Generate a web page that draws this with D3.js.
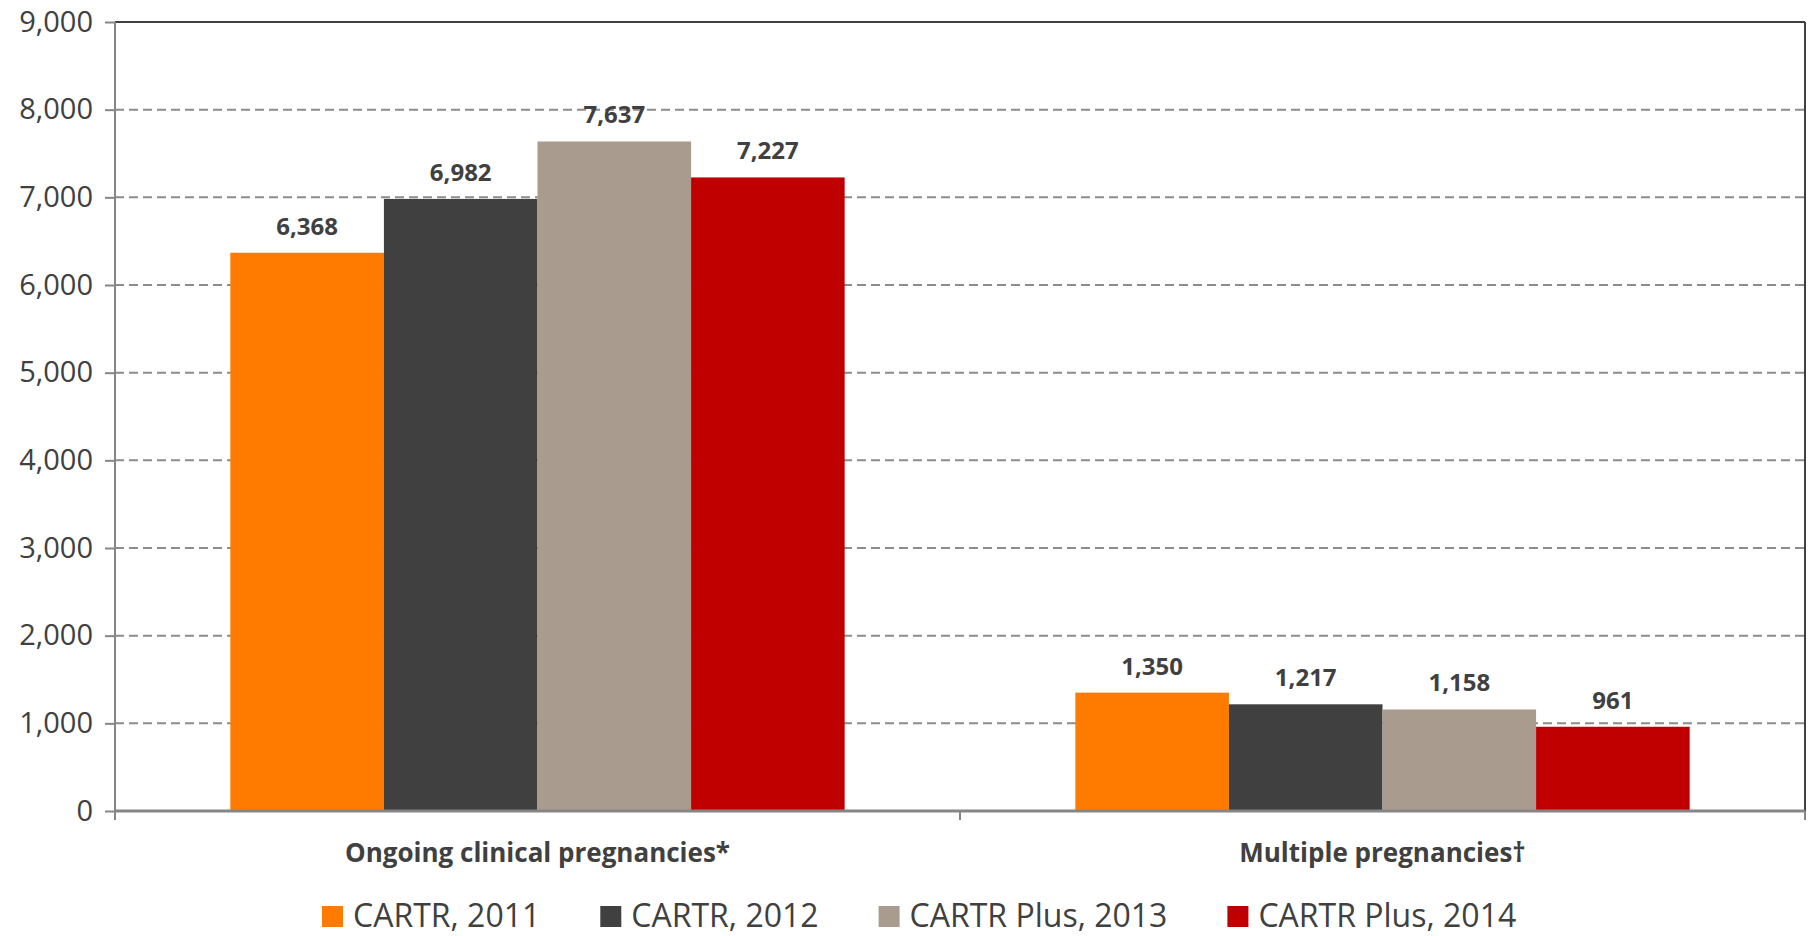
<!DOCTYPE html>
<html>
<head>
<meta charset="utf-8">
<script src="https://cdn.jsdelivr.net/npm/d3@7"></script>
<style>
  html, body { margin: 0; padding: 0; background: #fff; }
  svg { display: block; font-family: "Open Sans", sans-serif; }
</style>
</head>
<body>
<svg id="chart" width="1810" height="936"></svg>
<script>
const categories = ["Ongoing clinical pregnancies*", "Multiple pregnancies\u2020"];
const seriesNames = ["CARTR, 2011", "CARTR, 2012", "CARTR Plus, 2013", "CARTR Plus, 2014"];
const seriesColors = ["#ff7b00", "#404040", "#a99c8f", "#c00000"];
const ongoingValues = [6368, 6982, 7637, 7227];
const multipleValues = [1350, 1217, 1158, 961];
const yTicks = [0, 1000, 2000, 3000, 4000, 5000, 6000, 7000, 8000, 9000];

const width = 1810;
const height = 936;
const margin = {top: 22, right: 5, bottom: 125, left: 115};
const textColor = "#404040";

const rows = [ongoingValues, multipleValues].map((vals, i) => ({
    cat: categories[i],
    values: vals.map((v, j) => ({series: seriesNames[j], value: v, color: seriesColors[j]}))
}));

const svg = d3.select("#chart");

const x0 = d3.scaleBand()
    .domain(categories)
    .range([margin.left, width - margin.right])
    .paddingInner(0.273)
    .paddingOuter(0.1365);

const x1 = d3.scaleBand()
    .domain(seriesNames)
    .range([0, x0.bandwidth()]);

const y = d3.scaleLinear()
    .domain([0, 9000])
    .range([height - margin.bottom, margin.top]);

const fmt = d3.format(",");
const plotRight = width - margin.right;
const plotBottom = y(0);

// gridlines (dashed), skip 0 and top which is solid
svg.append("g")
    .selectAll("line")
    .data(yTicks.filter(t => t > 0 && t < 9000))
    .join("line")
    .attr("x1", margin.left)
    .attr("x2", plotRight)
    .attr("y1", d => y(d))
    .attr("y2", d => y(d))
    .attr("stroke", "#8c8c8c")
    .attr("stroke-width", 2)
    .attr("stroke-dasharray", "9,5");

// bars
const group = svg.append("g")
    .selectAll("g")
    .data(rows)
    .join("g")
    .attr("transform", d => `translate(${x0(d.cat)},0)`);

group.selectAll("rect")
    .data(d => d.values)
    .join("rect")
    .attr("x", d => x1(d.series))
    .attr("y", d => y(d.value))
    .attr("width", x1.bandwidth())
    .attr("height", d => plotBottom - y(d.value))
    .attr("fill", d => d.color);

group.selectAll("text")
    .data(d => d.values)
    .join("text")
    .attr("x", d => x1(d.series) + x1.bandwidth() / 2)
    .attr("y", d => y(d.value) - 18)
    .attr("text-anchor", "middle")
    .attr("font-size", 24)
    .attr("font-weight", "bold")
    .attr("fill", textColor)
    .text(d => fmt(d.value));

// frame: top and right solid dark
svg.append("line")
    .attr("x1", margin.left).attr("x2", plotRight)
    .attr("y1", y(9000)).attr("y2", y(9000))
    .attr("stroke", "#404040").attr("stroke-width", 2);
svg.append("line")
    .attr("x1", plotRight).attr("x2", plotRight)
    .attr("y1", y(9000)).attr("y2", plotBottom)
    .attr("stroke", "#404040").attr("stroke-width", 2);

// y axis
const yAxis = svg.append("g")
    .attr("transform", `translate(${margin.left},0)`)
    .call(d3.axisLeft(y).tickValues(yTicks).tickFormat(fmt).tickSize(10).tickPadding(12));
yAxis.select(".domain").attr("stroke", "#868686").attr("stroke-width", 2)
    .attr("d", `M0,${margin.top}V${plotBottom + 9}`);
yAxis.selectAll(".tick line").attr("stroke", "#868686").attr("stroke-width", 2);
yAxis.selectAll(".tick text")
    .attr("font-size", 29)
    .attr("font-family", "Open Sans, sans-serif")
    .attr("fill", textColor);

// x axis
const xAxis = svg.append("g")
    .attr("transform", `translate(0,${plotBottom})`);
xAxis.append("line")
    .attr("x1", margin.left).attr("x2", plotRight)
    .attr("stroke", "#868686").attr("stroke-width", 3);
const step = x0.step();
const boundaries = [margin.left, margin.left + step, plotRight];
xAxis.selectAll(".bt")
    .data(boundaries)
    .join("line")
    .attr("class", "bt")
    .attr("x1", d => d).attr("x2", d => d)
    .attr("y1", 0).attr("y2", 9)
    .attr("stroke", "#868686").attr("stroke-width", 2);
xAxis.selectAll(".cat")
    .data(categories)
    .join("text")
    .attr("class", "cat")
    .attr("x", d => x0(d) + x0.bandwidth() / 2)
    .attr("y", 51)
    .attr("text-anchor", "middle")
    .attr("font-size", 26)
    .attr("font-weight", "bold")
    .attr("fill", textColor)
    .text(d => d);

// legend
const legend = svg.append("g").attr("transform", "translate(322,927)");
let lx = 0;
seriesNames.forEach((name, i) => {
    const item = legend.append("g").attr("transform", `translate(${lx},0)`);
    item.append("rect")
        .attr("x", 0).attr("y", -21)
        .attr("width", 21).attr("height", 21)
        .attr("fill", seriesColors[i]);
    const t = item.append("text")
        .attr("x", 31).attr("y", 0)
        .attr("font-size", 32)
        .attr("fill", textColor)
        .text(name);
    lx += 31 + t.node().getComputedTextLength() + 60;
});
</script>
</body>
</html>
